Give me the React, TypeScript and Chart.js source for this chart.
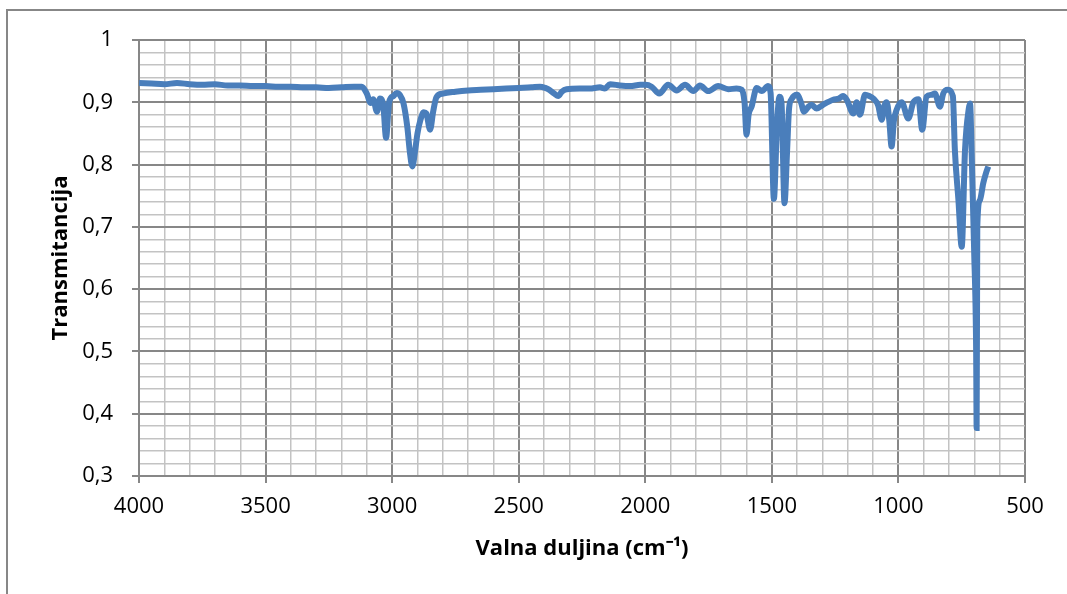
import React, { useEffect, useRef } from "react";
import { Chart, registerables } from "chart.js";

Chart.register(...registerables);

const wavenumbers: number[] = [
  4000, 3950, 3900, 3850, 3800, 3750, 3700, 3650, 3600, 3550, 3500, 3450, 3400, 3350, 3300, 3250, 3200, 3150, 3120,
  3100, 3085, 3075, 3060, 3048, 3035, 3024, 3012, 2995, 2982, 2970, 2955, 2940, 2930, 2920, 2910, 2900, 2888, 2875,
  2865, 2850, 2838, 2825, 2800, 2750, 2700, 2650, 2600, 2550, 2500, 2450, 2416, 2395, 2384, 2360, 2344, 2330, 2311,
  2260, 2220, 2179, 2160, 2139, 2100, 2060, 2020, 2000, 1975, 1945, 1910, 1876, 1843, 1810, 1784, 1751, 1712, 1672, 1640,
  1619, 1608, 1600, 1592, 1580, 1560, 1540, 1515, 1505, 1492, 1480, 1470, 1462, 1450, 1440, 1432, 1422, 1400, 1385,
  1373, 1355, 1343, 1323, 1298, 1258, 1235, 1219, 1204, 1178, 1165, 1152, 1132, 1115, 1099, 1080, 1066, 1055, 1046,
  1036, 1027, 1018, 1007, 987, 961, 941, 921, 906, 889, 870, 856, 836, 823, 805, 785, 777, 763, 750, 737, 722, 717,
  711, 701, 693, 691, 688.5, 678, 665, 655, 645,
];

const transmittance: number[] = [
  0.931, 0.93, 0.929, 0.931, 0.929, 0.928, 0.929, 0.927, 0.927, 0.926, 0.926, 0.925, 0.925, 0.924, 0.924, 0.923, 0.924, 0.925, 0.925,
  0.914, 0.899, 0.905, 0.885, 0.906, 0.895, 0.843, 0.9, 0.91, 0.915, 0.912, 0.898, 0.86, 0.82, 0.797, 0.82, 0.85, 0.872, 0.884,
  0.882, 0.856, 0.885, 0.908, 0.914, 0.917, 0.919, 0.92, 0.921, 0.922, 0.923, 0.924, 0.925, 0.923, 0.921, 0.914, 0.91, 0.917, 0.921,
  0.922, 0.922, 0.924, 0.922, 0.929, 0.927, 0.926, 0.928, 0.928, 0.925, 0.914, 0.928, 0.919, 0.928, 0.918, 0.927, 0.918, 0.926, 0.921, 0.922,
  0.92, 0.9, 0.848, 0.88, 0.893, 0.923, 0.918, 0.926, 0.915, 0.745, 0.86, 0.909, 0.9, 0.738, 0.82, 0.89, 0.905, 0.912, 0.9,
  0.885, 0.893, 0.896, 0.89, 0.896, 0.904, 0.906, 0.91, 0.904, 0.882, 0.9, 0.88, 0.912, 0.91, 0.906, 0.895, 0.872, 0.895, 0.9,
  0.87, 0.829, 0.87, 0.888, 0.9, 0.874, 0.9, 0.905, 0.856, 0.909, 0.912, 0.914, 0.893, 0.914, 0.92, 0.91, 0.823, 0.743, 0.668, 0.823, 0.89, 0.898,
  0.823, 0.663, 0.502, 0.377, 0.7, 0.743, 0.77, 0.785, 0.797,
];

const xMajorTicks: number[] = [4000, 3500, 3000, 2500, 2000, 1500, 1000, 500];
const yMajorTicks: number[] = [0.3, 0.4, 0.5, 0.6, 0.7, 0.8, 0.9, 1];

const xTitle = "Valna duljina (cm\u207B\u00B9)";
const yTitle = "Transmitancija";

const MAJOR = "#878787";
const MINOR = "#c3c3c3";

const isXMajor = (v: number) => xMajorTicks.some((t) => Math.abs(t - v) < 1e-6);
const isYMajor = (v: number) => yMajorTicks.some((t) => Math.abs(t - v) < 1e-6);

export default function App() {
  const ref = useRef<HTMLCanvasElement | null>(null);

  useEffect(() => {
    if (!ref.current) return;
    const points = wavenumbers.map((w, i) => ({ x: w, y: transmittance[i] }));
    const chart = new Chart(ref.current, {
      type: "line",
      data: {
        datasets: [
          {
            data: points,
            borderColor: "#4a7ebb",
            borderWidth: 6,
            pointRadius: 0,
            cubicInterpolationMode: "monotone",
            fill: false,
          },
        ],
      },
      options: {
        animation: false,
        responsive: false,
        devicePixelRatio: 1,
        layout: { padding: { left: 0, top: 40, right: 42, bottom: 0 } },
        plugins: { legend: { display: false }, tooltip: { enabled: false } },
        scales: {
          x: {
            type: "linear",
            min: 500,
            max: 4000,
            reverse: true,
            afterFit: (s: any) => {
              s.height = 118;
            },
            ticks: {
              stepSize: 100,
              autoSkip: false,
              maxRotation: 0,
              padding: 11,
              color: "#000",
              font: { family: "'Open Sans'", size: 22 },
              callback: (v: any) => (isXMajor(Number(v)) ? String(v) : ""),
            },
            grid: {
              color: (c: any) => (c.tick && isXMajor(c.tick.value) ? MAJOR : MINOR),
              lineWidth: (c: any) => (c.tick && isXMajor(c.tick.value) ? 2 : 1.5),
              tickColor: (c: any) => (c.tick && isXMajor(c.tick.value) ? MAJOR : "rgba(0,0,0,0)"),
              tickLength: 7,
            },
            border: { color: MAJOR, width: 2 },
            title: {
              display: true,
              text: xTitle,
              color: "#000",
              font: { family: "'Open Sans'", size: 22, weight: "bold" },
              padding: { top: 0, bottom: 32 },
            },
          },
          y: {
            type: "linear",
            min: 0.3,
            max: 1,
            afterFit: (s: any) => {
              s.width = 139;
            },
            ticks: {
              stepSize: 0.02,
              autoSkip: false,
              padding: 19,
              color: "#000",
              font: { family: "'Open Sans'", size: 22 },
              callback: (v: any) => {
                const n = Number(v);
                if (!isYMajor(n)) return "";
                const r = Math.round(n * 10) / 10;
                return r === 1 ? "1" : r.toFixed(1).replace(".", ",");
              },
            },
            grid: {
              color: (c: any) => (c.tick && isYMajor(c.tick.value) ? MAJOR : MINOR),
              lineWidth: (c: any) => (c.tick && isYMajor(c.tick.value) ? 2 : 1.5),
              tickColor: (c: any) => (c.tick && isYMajor(c.tick.value) ? MAJOR : "rgba(0,0,0,0)"),
              tickLength: 7,
            },
            border: { color: MAJOR, width: 2 },
            title: {
              display: true,
              text: yTitle,
              color: "#000",
              font: { family: "'Open Sans'", size: 22, weight: "bold" },
              padding: { top: 48, bottom: 0 },
            },
          },
        },
      },
    } as any);
    return () => chart.destroy();
  }, []);

  return (
    <div
      style={{
        position: "fixed",
        left: 0,
        top: 0,
        width: 1067,
        height: 594,
        overflow: "hidden",
        background: "#fff",
      }}
    >
      <div
        style={{
          position: "absolute",
          left: 6,
          top: 9,
          width: 1200,
          height: 800,
          borderLeft: "2px solid #878787",
          borderTop: "2px solid #878787",
        }}
      />
      <canvas ref={ref} width={1067} height={594} style={{ position: "absolute", left: 0, top: 0 }} />
    </div>
  );
}
